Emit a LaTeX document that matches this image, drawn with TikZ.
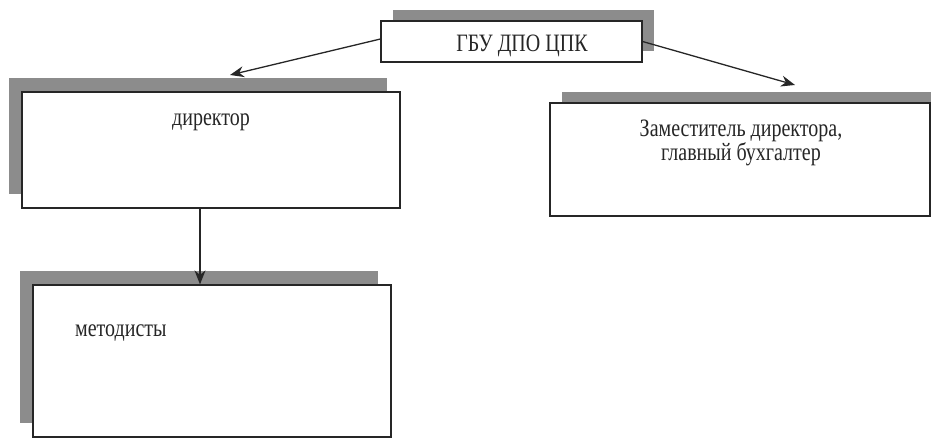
\documentclass[tikz,border=0pt]{standalone}
\usepackage{fontspec}
\setmainfont{Liberation Serif}
\usetikzlibrary{shadows,arrows.meta}
\newcommand{\vst}[1]{\scalebox{1}[1.25]{#1}}
\begin{document}
\begin{tikzpicture}[x=1pt,y=-1pt,
  box/.style={draw=black!85, line width=1.2pt, fill=white, rectangle, inner sep=0pt},
  shl/.style={drop shadow={shadow xshift=-13pt, shadow yshift=14pt, fill=black!45, opacity=1}},
  shr/.style={drop shadow={shadow xshift=12pt, shadow yshift=11pt, fill=black!45, opacity=1}},
  arr/.style={-{Stealth[length=14pt,width=11pt]}, line width=1.3pt, draw=black!85},
  lbl/.style={font=\fontsize{20}{24}\selectfont, inner sep=0pt, text=black!85}]
\useasboundingbox (0,0) rectangle (931,439);
% boxes
\node[box, shr, minimum width=261pt, minimum height=41pt] (top) at (511.5,41.5) {};
\node[box, shl, minimum width=378pt, minimum height=116pt] (dir) at (211,150) {};
\node[box, shr, minimum width=380pt, minimum height=113pt] (dep) at (740,159.5) {};
\node[box, shl, minimum width=358pt, minimum height=152pt] (met) at (212,361) {};
% labels
\node[lbl, anchor=base] (ttop) at (522,51) {\vst{ГБУ ДПО ЦПК}};
\node[lbl, anchor=base] (tdir) at (211,125) {\vst{директор}};
\node[lbl, anchor=base, align=center] (tdep) at (741,160) {\vst{Заместитель директора,}\\\vst{главный бухгалтер}};
\node[lbl, anchor=base west] (tmet) at (75,336) {\vst{методисты}};
% connectors
\coordinate (e1) at (230,75);
\coordinate (e2) at (795,85);
\coordinate (vx) at (200,0);
\draw[arr] ([yshift=2.5pt]top.west) -- (e1);
\draw[arr] (top.east) -- (e2);
\draw[arr] (dir.south -| vx) -- (met.north -| vx);
\end{tikzpicture}
\end{document}
